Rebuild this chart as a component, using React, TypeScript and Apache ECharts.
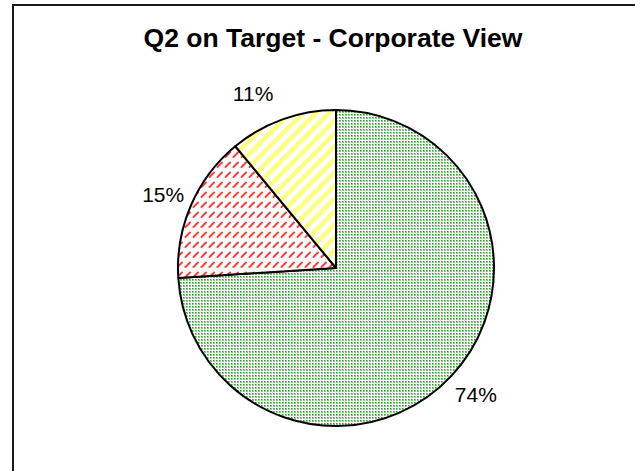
import React, { useEffect, useRef } from "react";
import * as echarts from "echarts";

const titleText = "Q2 on Target - Corporate View";
const categories = ["On Target", "Off Target", "At Risk"];
const values = [74, 15, 11];

function makeCanvas(w: number, h: number) {
  const c = document.createElement("canvas");
  c.width = w;
  c.height = h;
  return c;
}

function greenDots() {
  const c = makeCanvas(3, 3);
  const g = c.getContext("2d")!;
  g.fillStyle = "#ffffff";
  g.fillRect(0, 0, 3, 3);
  g.fillStyle = "#86cc86";
  g.fillRect(0, 0, 2, 2);
  g.fillStyle = "#2fa02f";
  g.fillRect(0, 0, 1, 1);
  return c;
}

function redDashes() {
  const c = makeCanvas(8, 10);
  const g = c.getContext("2d")!;
  g.fillStyle = "#ffffff";
  g.fillRect(0, 0, 8, 10);
  g.strokeStyle = "#ff3c3c";
  g.lineWidth = 2;
  g.lineCap = "round";
  g.beginPath();
  g.moveTo(1.5, 7);
  g.lineTo(6, 2.5);
  g.stroke();
  return c;
}

function yellowStripes() {
  const s = 13;
  const c = makeCanvas(s, s);
  const g = c.getContext("2d")!;
  g.fillStyle = "#ffffff";
  g.fillRect(0, 0, s, s);
  g.strokeStyle = "#ffff80";
  g.lineWidth = 4.6;
  g.beginPath();
  for (const off of [-s, 0, s]) {
    g.moveTo(off - 2, s + 2);
    g.lineTo(off + s + 2, -2);
  }
  g.stroke();
  return c;
}

export default function App() {
  const ref = useRef<HTMLDivElement>(null);

  useEffect(() => {
    if (!ref.current) return;
    const chart = echarts.init(ref.current, undefined, { renderer: "svg" });
    const fills = [greenDots(), redDashes(), yellowStripes()];
    const labelShift = [-16, -18, 0];
    const data = values.map((v, i) => ({
      name: categories[i],
      value: v,
      itemStyle: { color: { image: fills[i], repeat: "repeat" } as any },
      label: { distanceToLabelLine: labelShift[i] },
    }));
    chart.setOption({
      animation: false,
      backgroundColor: "#ffffff",
      title: {
        text: titleText,
        left: 333,
        top: 24,
        padding: 0,
        textAlign: "center",
        textStyle: {
          fontFamily: "Liberation Sans, Arial, sans-serif",
          fontWeight: "bold",
          fontSize: 26.5,
          color: "#000000",
        },
      },
      graphic: [
        {
          type: "rect",
          z: -10,
          shape: { x: 13, y: 5, width: 700, height: 600 },
          style: { fill: "none", stroke: "#1a1a1a", lineWidth: 2 },
          silent: true,
        },
      ],
      series: [
        {
          type: "pie",
          center: [336, 268],
          radius: 158,
          startAngle: 90,
          clockwise: true,
          avoidLabelOverlap: false,
          data,
          itemStyle: { borderColor: "#000000", borderWidth: 2 },
          label: {
            show: true,
            position: "outside",
            formatter: "{d}%",
            color: "#000000",
            fontSize: 21,
            fontFamily: "Liberation Sans, Arial, sans-serif",
          },
          labelLine: { show: false, length: 27, length2: 0 },
          emphasis: { disabled: true },
        },
      ],
    });
    return () => chart.dispose();
  }, []);

  return (
    <div
      ref={ref}
      style={{ position: "fixed", left: 0, top: 0, width: 635, height: 471 }}
    />
  );
}
